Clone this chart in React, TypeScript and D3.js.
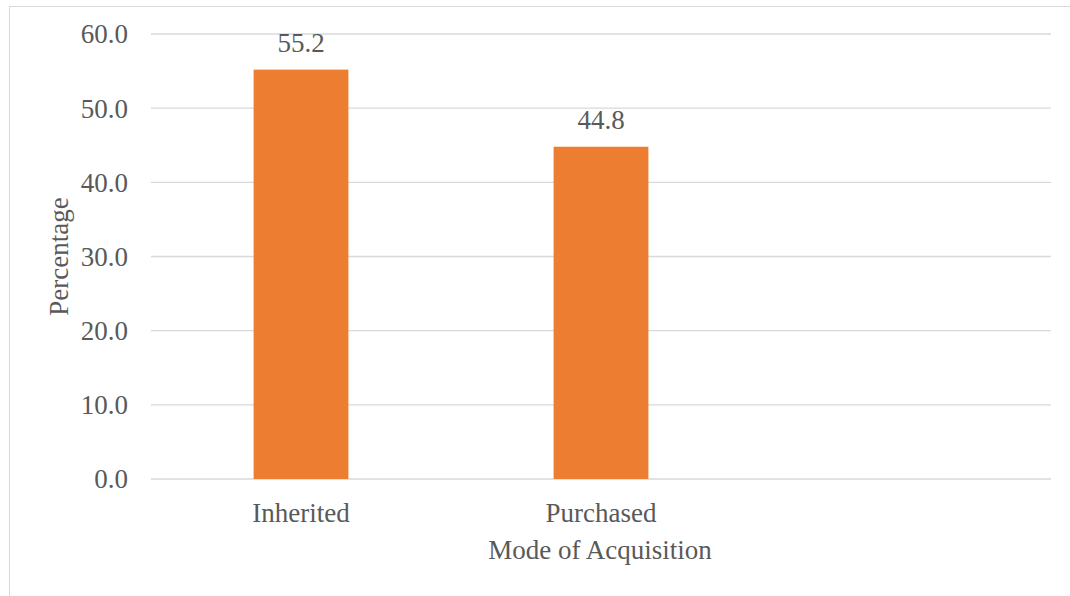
import * as d3 from 'd3';
import * as React from 'react';

const categories: string[] = ['Inherited', 'Purchased', ''];
const percentages: number[] = [55.2, 44.8];
const yTicks: number[] = [0, 10, 20, 30, 40, 50, 60];

const width = 1070;
const height = 596;
const margin = { top: 34, right: 19, bottom: 117, left: 151 };
const barColor = '#ED7D31';
const textColor = '#595959';
const gridColor = '#D9D9D9';
const font = '"Liberation Serif", "Times New Roman", serif';
const fontSize = 27;

const App: React.FC = () => {
  const x = d3
    .scaleBand()
    .domain(categories)
    .range([margin.left, width - margin.right]);

  const y = d3
    .scaleLinear()
    .domain([0, 60])
    .range([height - margin.bottom, margin.top]);

  // bars take about a third of each category slot
  const barWidth = x.bandwidth() * 0.316;

  return (
    <svg
      width={width}
      height={height}
      style={{ position: 'absolute', left: 0, top: 0, background: '#fff' }}
      fontFamily={font}
    >
      <rect x={9.5} y={6.5} width={width} height={height} fill="none" stroke={gridColor} />

      {yTicks.map((t) => (
        <g key={t}>
          <line
            x1={margin.left}
            x2={width - margin.right}
            y1={y(t)}
            y2={y(t)}
            stroke={gridColor}
            strokeWidth={1.3}
          />
          <text
            x={margin.left - 23}
            y={y(t)}
            dy="0.35em"
            textAnchor="end"
            fontSize={fontSize}
            fill={textColor}
          >
            {d3.format('.1f')(t)}
          </text>
        </g>
      ))}

      {percentages.map((v, i) => {
        const cx = (x(categories[i]) ?? 0) + x.bandwidth() / 2;
        return (
          <g key={categories[i]}>
            <rect
              x={cx - barWidth / 2}
              y={y(v)}
              width={barWidth}
              height={y(0) - y(v)}
              fill={barColor}
            />
            <text x={cx} y={y(v) - 18} textAnchor="middle" fontSize={fontSize} fill={textColor}>
              {v.toFixed(1)}
            </text>
          </g>
        );
      })}

      {categories.map((c) => (
        <text
          key={c || 'blank'}
          x={(x(c) ?? 0) + x.bandwidth() / 2}
          y={522}
          textAnchor="middle"
          fontSize={fontSize}
          fill={textColor}
        >
          {c}
        </text>
      ))}

      <text x={600} y={559} textAnchor="middle" fontSize={fontSize} fill={textColor}>
        Mode of Acquisition
      </text>
      <text
        transform={`translate(68, ${(y(0) + y(60)) / 2}) rotate(-90)`}
        textAnchor="middle"
        fontSize={fontSize}
        fill={textColor}
      >
        Percentage
      </text>
    </svg>
  );
};

export default App;
